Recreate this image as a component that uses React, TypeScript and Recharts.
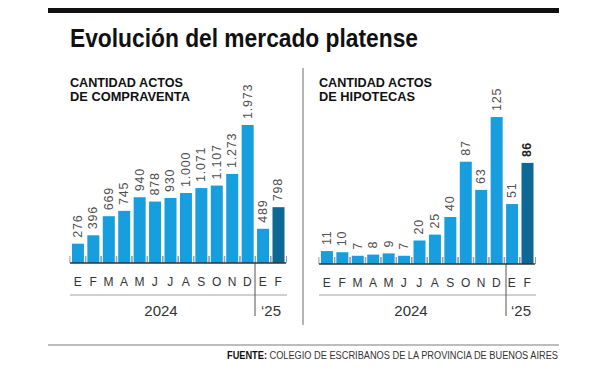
import React from "react"
import { BarChart, Bar, XAxis, YAxis, Cell, LabelList } from "recharts"

const months = ["E", "F", "M", "A", "M", "J", "J", "A", "S", "O", "N", "D", "E", "F"]
const compraventa = [276, 396, 669, 745, 940, 878, 930, 1000, 1071, 1107, 1273, 1973, 489, 798]
const hipotecas = [11, 10, 7, 8, 9, 7, 20, 25, 40, 87, 63, 125, 51, 86]

const LIGHT = "#179ede"
const DARK = "#0e6895"
const FONT = "'Liberation Sans', Arial, sans-serif"

const fmt = (v: number) => String(v).replace(/\B(?=(\d{3})+(?!\d))/g, ".")

const rowsOf = (values: number[]) => values.map((v, i) => ({ id: String(i), mes: months[i], value: v }))

// bar with small boundary ticks at the baseline
const TickedBar = (props: any) => {
  const { x, y, width, height, fill } = props
  const off = width / 6
  const base = y + height
  return (
    <g>
      <rect x={x} y={y} width={width} height={height} fill={fill} />
      <line x1={x - off} x2={x - off} y1={base} y2={base - 7} stroke="#9a9a9a" strokeWidth={1} />
      <line x1={x + width + off} x2={x + width + off} y1={base} y2={base - 7} stroke="#9a9a9a" strokeWidth={1} />
    </g>
  )
}

const makeLabel = (boldLast: boolean, count: number) => (props: any) => {
  const { x, y, width, value, index } = props
  const cx = x + width / 2
  const ty = y - 6
  const last = boldLast && index === count - 1
  return (
    <text
      x={cx}
      y={ty}
      transform={`rotate(-90, ${cx}, ${ty})`}
      textAnchor="start"
      dominantBaseline="central"
      fontFamily={FONT}
      fontSize={12.5}
      letterSpacing={last ? 0.3 : 0.8}
      fontWeight={last ? 700 : 400}
      fill={last ? "#222" : "#505050"}
    >
      {fmt(value)}
    </text>
  )
}

function Panel({ values, max, left, width, margin, boldLast }: any) {
  const data = rowsOf(values)
  return (
    <div style={{ position: "absolute", left, top: 0 }}>
      <BarChart width={width} height={300} data={data} margin={margin} barCategoryGap="12.5%">
        <XAxis
          dataKey="id"
          tickFormatter={(_v: string, i: number) => months[i]}
          interval={0}
          tickLine={false}
          axisLine={{ stroke: "#333", strokeWidth: 1.5 }}
          tick={{ fill: "#333", fontSize: 12, fontFamily: FONT }}
          tickMargin={8}
        />
        <YAxis hide domain={[0, max]} />
        <Bar dataKey="value" shape={<TickedBar />} isAnimationActive={false}>
          {data.map((_d, i) => (
            <Cell key={i} fill={i === data.length - 1 ? DARK : LIGHT} />
          ))}
          <LabelList dataKey="value" content={makeLabel(boldLast, data.length)} />
        </Bar>
      </BarChart>
    </div>
  )
}

export default function App() {
  return (
    <div style={{ position: "absolute", left: 0, top: 0, width: 590, height: 369, background: "#fff", overflow: "hidden" }}>
      <svg width={590} height={369} style={{ position: "absolute", left: 0, top: 0 }} fontFamily={FONT}>
        <rect x={48} y={8} width={511} height={5} fill="#111" />
        <text x={70} y={47} fontSize={25} fontWeight={700} fill="#111" textLength={348} lengthAdjust="spacingAndGlyphs">
          Evolución del mercado platense
        </text>
        <line x1={303} x2={303} y1={68} y2={325} stroke="#b5b5b5" strokeWidth={2} />

        <text x={70} y={87} fontSize={12} fontWeight={700} fill="#111" textLength={113} lengthAdjust="spacingAndGlyphs">CANTIDAD ACTOS</text>
        <text x={70} y={101} fontSize={12} fontWeight={700} fill="#111" textLength={120} lengthAdjust="spacingAndGlyphs">DE COMPRAVENTA</text>
        <text x={319} y={87} fontSize={12} fontWeight={700} fill="#111" textLength={113} lengthAdjust="spacingAndGlyphs">CANTIDAD ACTOS</text>
        <text x={319} y={101} fontSize={12} fontWeight={700} fill="#111" textLength={96} lengthAdjust="spacingAndGlyphs">DE HIPOTECAS</text>

        <line x1={70} x2={287} y1={295} y2={295} stroke="#a0a0a0" strokeWidth={1} />
        <line x1={255} x2={255} y1={263} y2={316} stroke="#555" strokeWidth={1} />
        <text x={161} y={316} fontSize={15} fill="#333" textAnchor="middle">2024</text>
        <text x={271} y={316} fontSize={15} fill="#333" textAnchor="middle">{"\u201825"}</text>

        <line x1={319} x2={536} y1={295} y2={295} stroke="#a0a0a0" strokeWidth={1} />
        <line x1={506} x2={506} y1={264} y2={316} stroke="#555" strokeWidth={1} />
        <text x={411} y={316} fontSize={15} fill="#333" textAnchor="middle">2024</text>
        <text x={521} y={316} fontSize={15} fill="#333" textAnchor="middle">{"\u201825"}</text>

        <line x1={48} x2={559} y1={345} y2={345} stroke="#bdbdbd" strokeWidth={2} />
        <text x={227} y={359} fontSize={10} fill="#333" textLength={331} lengthAdjust="spacingAndGlyphs">
          <tspan fontWeight={700} fill="#111">FUENTE:</tspan> COLEGIO DE ESCRIBANOS DE LA PROVINCIA DE BUENOS AIRES
        </text>
      </svg>

      <Panel values={compraventa} max={2330} left={0} width={300} margin={{ top: 100, left: 70, right: 14, bottom: 7 }} boldLast={false} />
      <Panel values={hipotecas} max={139.5} left={300} width={250} margin={{ top: 100, left: 19, right: 15, bottom: 6 }} boldLast={true} />
    </div>
  )
}
